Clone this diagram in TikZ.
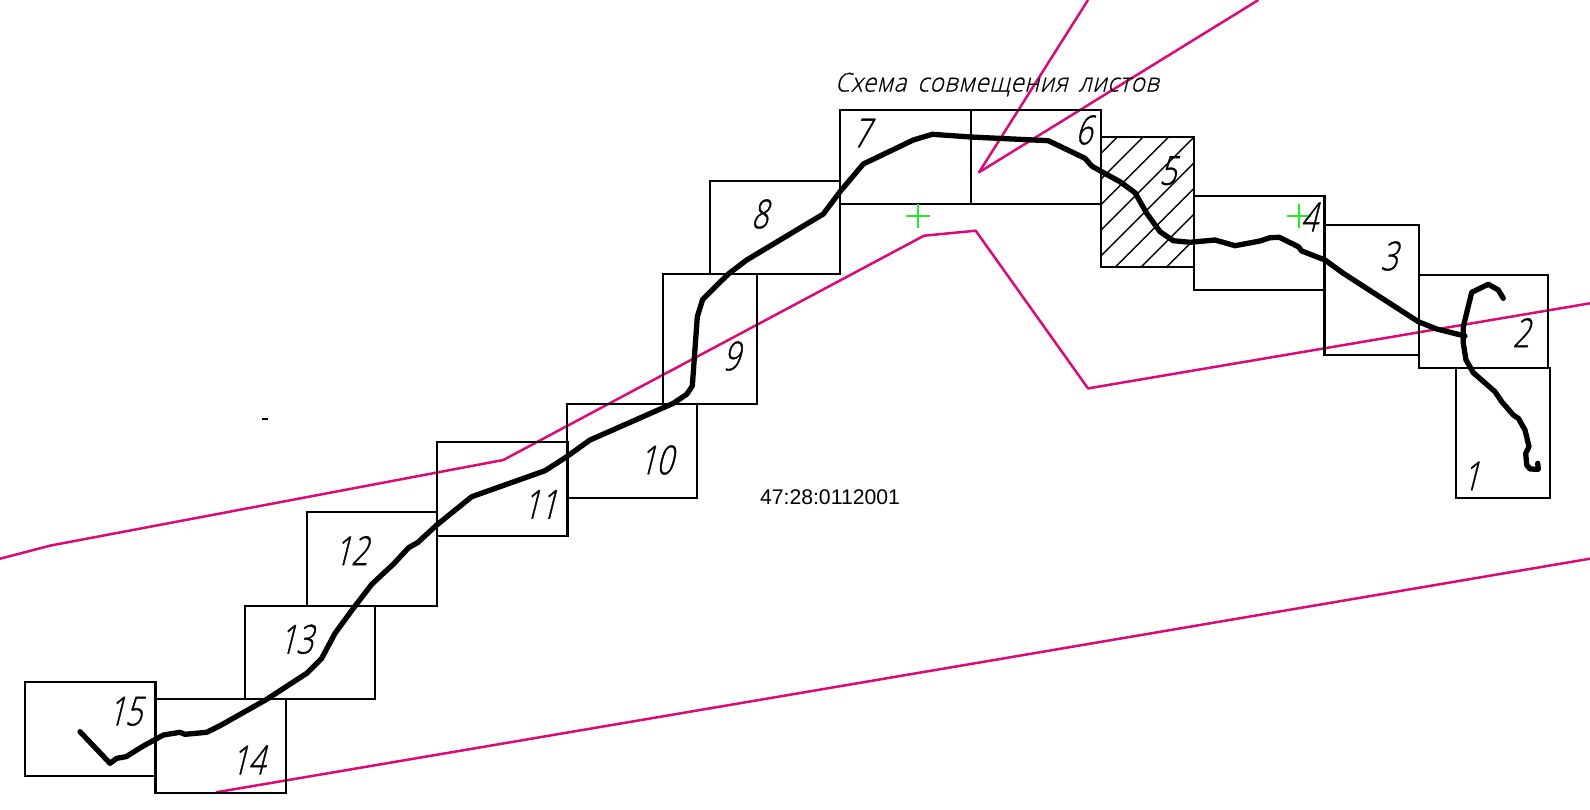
\documentclass[tikz,border=0pt]{standalone}
\usepackage{fontspec}
\newfontfamily\isofont[FakeSlant=0.25,FakeStretch=0.74,FakeBold=0.9]{Open Sans Light}
\newfontfamily\isotitle[FakeSlant=0.25,FakeStretch=0.925,FakeBold=0.6,LetterSpace=2.5,WordSpace=1.6]{Open Sans Light}
\newfontfamily\arialfont{Liberation Sans}
\definecolor{mag}{RGB}{218,10,120}
\definecolor{grn}{RGB}{40,235,40}
\tikzset{
  sheetbox/.style={draw=black,line width=2.1pt},
  hatchline/.style={draw=black,line width=1.4pt},
  magline/.style={draw=mag,line width=2.5pt,line join=round},
  grnline/.style={draw=grn,line width=1.5pt},
  route/.style={draw=black,line width=5.3pt,line join=round,line cap=round},
  num/.style={font=\isofont\fontsize{40}{40}\selectfont,inner sep=0pt,text=black},
  titletext/.style={font=\isotitle\fontsize{26}{26}\selectfont,inner sep=0pt,text=black},
  codetext/.style={font=\arialfont\fontsize{21.2}{21.2}\selectfont,inner sep=0pt,text=black}
}
\begin{document}
\begin{tikzpicture}[x=1pt,y=-1pt]
\useasboundingbox (0,0) rectangle (1590,809);
\begin{scope}
\clip (0,0) rectangle (1590,809);
% magenta lines
\path[magline] (0,558.7) -- (50.7,545.5) -- (503.3,460) -- (924,235.7) -- (975.7,230.7) -- (1088,388.4) -- (1590,303.3);
\path[magline] (216,792.3) -- (1590,558.7);
\path[magline] (1088,0) -- (979,172.3) -- (1258.4,0);
% hatching of sheet 5
\begin{scope}
\clip (1101,136.7) rectangle (1194.3,266.7);
\foreach \k in {-1,...,6}{
  \pgfmathsetmacro{\s}{1280+25.6*\k}
  \path[hatchline] (\s-100,100) -- (\s-300,300);
}
\end{scope}
% sheets
\path[sheetbox] (1455.7,368.3) rectangle (1550,498.3);
\path[sheetbox] (1418.7,274.7) rectangle (1548.3,368.3);
\path[sheetbox] (1324.5,225) rectangle (1418.7,355);
\path[sheetbox] (1194,196) rectangle (1324.5,290);
\path[sheetbox] (1101,136.7) rectangle (1194.3,266.7);
\path[sheetbox] (970.7,109.7) rectangle (1101,203.7);
\path[sheetbox] (840.3,109.7) rectangle (970.7,203.7);
\path[sheetbox] (710,180.7) rectangle (840.3,273.7);
\path[sheetbox] (663,274) rectangle (757,404);
\path[sheetbox] (567,404) rectangle (697,498);
\path[sheetbox] (437,442) rectangle (567.5,535.7);
\path[sheetbox] (307,512.3) rectangle (437,605.7);
\path[sheetbox] (245,605.7) rectangle (375,699);
\path[sheetbox] (155.5,699) rectangle (286,793);
\path[sheetbox] (25.3,682) rectangle (155.5,775.7);
% green crosses
\path[grnline] (906,216) -- (930,216) (918,204) -- (918,228);
\path[grnline] (1287,216) -- (1311,216) (1299,204) -- (1299,228);
% texts
\node[num] (n1) at (1471,476) {1};
\node[num] (n2) at (1521,332.7) {2};
\node[num] (n3) at (1389,256) {3};
\node[num] (n4) at (1309,217) {4};
\node[num] (n5) at (1167.7,170.7) {5};
\node[num] (n6) at (1083.7,130) {6};
\node[num] (n7) at (861.5,133) {7};
\node[num] (n8) at (759.5,214) {8};
\node[num] (n9) at (731.3,356) {9};
\node[num] (n10) at (656,460) {10};
\node[num] (n11) at (540,504.3) {11};
\node[num] (n12) at (351,550.6) {12};
\node[num] (n13) at (296,639.3) {13};
\node[num] (n14) at (248,760) {14};
\node[num] (n15) at (125,711.3) {15};
\node[titletext] (title) at (997,84.5) {Схема совмещения листов};
\node[codetext] (code) at (830,497) {47:28:0112001};
% small mark
\path[draw=black,line width=2.4pt] (262,419) -- (268,419);
% route
\path[route] (80,731.7) -- (110,763.3) -- (116.7,758.3) -- (126,756.7) -- (143.3,746) -- (163.3,735) -- (180,732.3) -- (185,734.3) -- (206.7,732.3) -- (220,725.7) -- (266.7,699.3) -- (306.7,673.3) -- (321.7,658.3) -- (335,633.3) -- (353.3,608.3) -- (372,584) -- (393.5,564) -- (408.7,547.6) -- (417.8,542.5) -- (436.7,525) -- (471.7,496.7) -- (545,470.7) -- (566.7,456.7) -- (590,440) -- (673.3,403.3) -- (686.7,394.3) -- (692.3,386) -- (697.3,316.7) -- (702.7,299.3) -- (728.3,274) -- (746.7,260) -- (823.3,214) -- (840,191.7) -- (863.3,164) -- (913.3,140) -- (932.3,134.3) -- (970.7,137) -- (1048.3,140.7) -- (1085,158.3) -- (1091.7,166) -- (1101.7,171.7) -- (1120,181.7) -- (1135,192.7) -- (1146.7,213.3) -- (1160,231.7) -- (1173.3,240.7) -- (1190,242.3) -- (1215,240) -- (1235,245.7) -- (1260,241) -- (1270,237.7) -- (1279.3,237.3) -- (1298.3,246.7) -- (1301.7,251) -- (1325,260) -- (1343.3,273.3) -- (1418.3,321.7) -- (1436.7,329) -- (1465,336);
\path[route] (1503.3,298.3) -- (1498.3,290) -- (1488.3,284.3) -- (1480,288.3) -- (1471.7,292.3) -- (1463.3,326.7) -- (1463.3,343.3) -- (1466,360) -- (1473.3,372.7) -- (1495,391.7) -- (1501.7,401.7) -- (1513.3,415) -- (1518.3,418.3) -- (1525,430) -- (1529,446.7) -- (1525.7,453.3) -- (1526.7,465) -- (1530,469) -- (1538.3,469.3) -- (1537.7,463.3);
\end{scope}
\end{tikzpicture}
\end{document}
